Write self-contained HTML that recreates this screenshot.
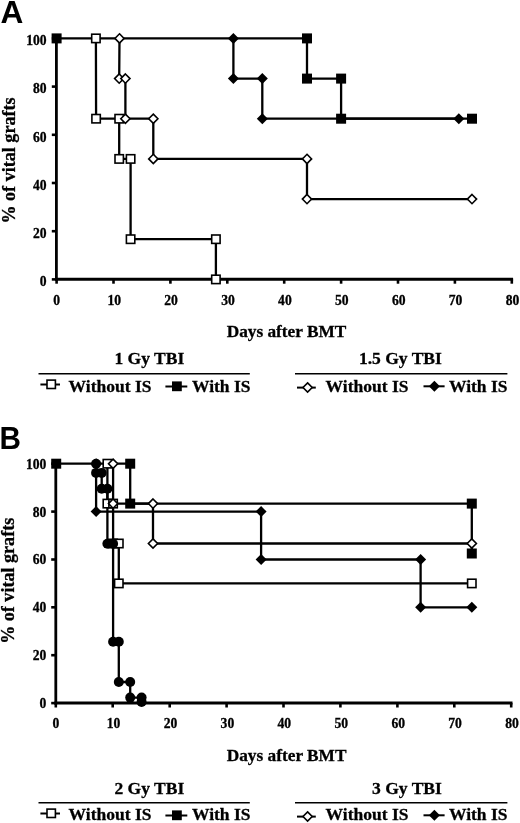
<!DOCTYPE html><html><head><meta charset="utf-8"><title>Figure</title><style>
html,body{margin:0;padding:0;background:#fff;}
svg{display:block;}
text{font-family:"Liberation Serif","Times New Roman",serif;font-weight:bold;fill:#000;stroke:#000;stroke-width:0.3px;}
.tk{font-size:13.6px;}
.lb{font-size:17.5px;}.dl{font-size:17.3px;}
.yl{font-size:18.1px;}
.pl{font-family:"Liberation Sans",Arial,sans-serif;font-size:31.6px;stroke:none;}
</style></head><body>
<svg width="520" height="823" viewBox="0 0 520 823">
<rect width="520" height="823" fill="#fff"/>
<text class="pl" x="0.5" y="22.8">A</text>
<line x1="56.4" y1="38.4" x2="56.4" y2="280.7" stroke="#000" stroke-width="2.8"/>
<line x1="55.0" y1="279.3" x2="513.1" y2="279.3" stroke="#000" stroke-width="3"/>
<line x1="56.6" y1="279.3" x2="56.6" y2="283.7" stroke="#000" stroke-width="2.6"/>
<text x="56.6" y="305.0" class="tk" text-anchor="middle">0</text>
<line x1="113.5" y1="279.3" x2="113.5" y2="283.7" stroke="#000" stroke-width="2.6"/>
<text x="114.2" y="305.0" class="tk" text-anchor="middle">10</text>
<line x1="170.4" y1="279.3" x2="170.4" y2="283.7" stroke="#000" stroke-width="2.6"/>
<text x="171.1" y="305.0" class="tk" text-anchor="middle">20</text>
<line x1="227.3" y1="279.3" x2="227.3" y2="283.7" stroke="#000" stroke-width="2.6"/>
<text x="228.0" y="305.0" class="tk" text-anchor="middle">30</text>
<line x1="284.2" y1="279.3" x2="284.2" y2="283.7" stroke="#000" stroke-width="2.6"/>
<text x="284.9" y="305.0" class="tk" text-anchor="middle">40</text>
<line x1="341.1" y1="279.3" x2="341.1" y2="283.7" stroke="#000" stroke-width="2.6"/>
<text x="341.8" y="305.0" class="tk" text-anchor="middle">50</text>
<line x1="398.0" y1="279.3" x2="398.0" y2="283.7" stroke="#000" stroke-width="2.6"/>
<text x="398.7" y="305.0" class="tk" text-anchor="middle">60</text>
<line x1="454.9" y1="279.3" x2="454.9" y2="283.7" stroke="#000" stroke-width="2.6"/>
<text x="455.6" y="305.0" class="tk" text-anchor="middle">70</text>
<line x1="511.8" y1="279.3" x2="511.8" y2="283.7" stroke="#000" stroke-width="2.6"/>
<text x="512.5" y="305.0" class="tk" text-anchor="middle">80</text>
<line x1="51.8" y1="279.4" x2="56.4" y2="279.4" stroke="#000" stroke-width="2.6"/>
<text x="46.6" y="286.2" class="tk" text-anchor="end">0</text>
<line x1="51.8" y1="231.2" x2="56.4" y2="231.2" stroke="#000" stroke-width="2.6"/>
<text x="46.6" y="238.0" class="tk" text-anchor="end">20</text>
<line x1="51.8" y1="183.0" x2="56.4" y2="183.0" stroke="#000" stroke-width="2.6"/>
<text x="46.6" y="189.8" class="tk" text-anchor="end">40</text>
<line x1="51.8" y1="134.8" x2="56.4" y2="134.8" stroke="#000" stroke-width="2.6"/>
<text x="46.6" y="141.6" class="tk" text-anchor="end">60</text>
<line x1="51.8" y1="86.6" x2="56.4" y2="86.6" stroke="#000" stroke-width="2.6"/>
<text x="46.6" y="93.4" class="tk" text-anchor="end">80</text>
<line x1="51.8" y1="38.4" x2="56.4" y2="38.4" stroke="#000" stroke-width="2.6"/>
<text x="46.6" y="45.2" class="tk" text-anchor="end">100</text>
<text class="yl" transform="translate(14.6,160.5) rotate(-90)" text-anchor="middle">% of vital grafts</text>
<text class="dl" x="286.5" y="336.5" text-anchor="middle">Days after BMT</text>
<polyline fill="none" stroke="#000" stroke-width="2.3" stroke-linejoin="miter" points="95.9,38.4 96.1,118.7 119.2,118.7 119.2,158.9 130.6,158.9 130.6,239.2 215.9,239.2 215.9,279.4"/>
<polyline fill="none" stroke="#000" stroke-width="2.3" stroke-linejoin="miter" points="119.5,38.4 119.2,78.6 125.4,78.6 125.4,118.7 153.3,118.7 153.3,158.9 307.0,158.9 307.0,199.1 472.0,199.1"/>
<polyline fill="none" stroke="#000" stroke-width="2.3" stroke-linejoin="miter" points="56.6,38.4 307.0,38.4 307.0,78.6 341.1,78.6 341.1,118.7 472.0,118.7"/>
<polyline fill="none" stroke="#000" stroke-width="2.3" stroke-linejoin="miter" points="233.4,38.4 233.4,78.6 262.3,78.6 262.3,118.7 458.8,118.7"/>
<rect x="91.7" y="34.2" width="8.4" height="8.4" fill="#fff" stroke="#000" stroke-width="1.6"/>
<rect x="91.9" y="114.5" width="8.4" height="8.4" fill="#fff" stroke="#000" stroke-width="1.6"/>
<rect x="115.0" y="114.5" width="8.4" height="8.4" fill="#fff" stroke="#000" stroke-width="1.6"/>
<rect x="115.0" y="154.7" width="8.4" height="8.4" fill="#fff" stroke="#000" stroke-width="1.6"/>
<rect x="126.4" y="154.7" width="8.4" height="8.4" fill="#fff" stroke="#000" stroke-width="1.6"/>
<rect x="126.4" y="235.0" width="8.4" height="8.4" fill="#fff" stroke="#000" stroke-width="1.6"/>
<rect x="211.7" y="235.0" width="8.4" height="8.4" fill="#fff" stroke="#000" stroke-width="1.6"/>
<rect x="211.7" y="275.2" width="8.4" height="8.4" fill="#fff" stroke="#000" stroke-width="1.6"/>
<polygon fill="#fff" stroke="#000" stroke-width="1.6" points="119.5,33.8 124.1,38.4 119.5,43.0 114.9,38.4"/>
<polygon fill="#fff" stroke="#000" stroke-width="1.6" points="119.2,74.0 123.8,78.6 119.2,83.2 114.6,78.6"/>
<polygon fill="#fff" stroke="#000" stroke-width="1.6" points="125.4,74.0 130.0,78.6 125.4,83.2 120.8,78.6"/>
<polygon fill="#fff" stroke="#000" stroke-width="1.6" points="125.4,114.1 130.0,118.7 125.4,123.3 120.8,118.7"/>
<polygon fill="#fff" stroke="#000" stroke-width="1.6" points="153.3,114.1 157.9,118.7 153.3,123.3 148.7,118.7"/>
<polygon fill="#fff" stroke="#000" stroke-width="1.6" points="153.3,154.3 157.9,158.9 153.3,163.5 148.7,158.9"/>
<polygon fill="#fff" stroke="#000" stroke-width="1.6" points="307.0,154.3 311.6,158.9 307.0,163.5 302.4,158.9"/>
<polygon fill="#fff" stroke="#000" stroke-width="1.6" points="307.0,194.5 311.6,199.1 307.0,203.7 302.4,199.1"/>
<polygon fill="#fff" stroke="#000" stroke-width="1.6" points="472.0,194.5 476.6,199.1 472.0,203.7 467.4,199.1"/>
<polygon fill="#000" points="233.4,32.9 238.9,38.4 233.4,43.9 227.9,38.4"/>
<polygon fill="#000" points="233.4,73.1 238.9,78.6 233.4,84.1 227.9,78.6"/>
<polygon fill="#000" points="262.3,73.1 267.8,78.6 262.3,84.1 256.8,78.6"/>
<polygon fill="#000" points="262.3,113.2 267.8,118.7 262.3,124.2 256.8,118.7"/>
<polygon fill="#000" points="458.8,113.2 464.3,118.7 458.8,124.2 453.3,118.7"/>
<rect x="51.6" y="33.4" width="10.0" height="10.0" fill="#000"/>
<rect x="302.0" y="33.4" width="10.0" height="10.0" fill="#000"/>
<rect x="302.0" y="73.6" width="10.0" height="10.0" fill="#000"/>
<rect x="336.1" y="73.6" width="10.0" height="10.0" fill="#000"/>
<rect x="336.1" y="113.7" width="10.0" height="10.0" fill="#000"/>
<rect x="467.0" y="113.7" width="10.0" height="10.0" fill="#000"/>
<text class="lb" x="184.2" y="364.2" text-anchor="end">1 Gy TBI</text>
<text class="lb" x="441.8" y="364.2" text-anchor="end">1.5 Gy TBI</text>
<line x1="38.5" y1="373.7" x2="249.8" y2="373.7" stroke="#000" stroke-width="1.6"/>
<line x1="295" y1="373.7" x2="507.4" y2="373.7" stroke="#000" stroke-width="1.6"/>
<line x1="40.4" y1="384.5" x2="60" y2="384.5" stroke="#000" stroke-width="2"/>
<rect x="47.0" y="380.1" width="8.4" height="8.4" fill="#fff" stroke="#000" stroke-width="1.6"/>
<line x1="165.4" y1="386.5" x2="187.3" y2="386.5" stroke="#000" stroke-width="2"/>
<rect x="172.0" y="381.4" width="9.8" height="9.8" fill="#000"/>
<line x1="297" y1="387.6" x2="315.8" y2="387.6" stroke="#000" stroke-width="2"/>
<polygon fill="#fff" stroke="#000" stroke-width="1.6" points="307.6,382.9 312.2,387.5 307.6,392.1 303.0,387.5"/>
<line x1="423.5" y1="386.3" x2="444.6" y2="386.3" stroke="#000" stroke-width="2"/>
<polygon fill="#000" points="434.4,380.8 439.9,386.3 434.4,391.8 428.9,386.3"/>
<text class="lb" x="68.6" y="391.6">Without IS</text>
<text class="lb" x="192" y="391.6">With IS</text>
<text class="lb" x="325.6" y="391.6">Without IS</text>
<text class="lb" x="449" y="391.6">With IS</text>
<text class="pl" transform="translate(-0.6,449.4) scale(0.94,1)">B</text>
<line x1="55.8" y1="463.7" x2="55.8" y2="704.5" stroke="#000" stroke-width="2.8"/>
<line x1="54.4" y1="703.1" x2="512.5" y2="703.1" stroke="#000" stroke-width="3"/>
<line x1="55.8" y1="703.1" x2="55.8" y2="707.5" stroke="#000" stroke-width="2.6"/>
<text x="55.8" y="728.2" class="tk" text-anchor="middle">0</text>
<line x1="112.7" y1="703.1" x2="112.7" y2="707.5" stroke="#000" stroke-width="2.6"/>
<text x="113.5" y="728.2" class="tk" text-anchor="middle">10</text>
<line x1="169.7" y1="703.1" x2="169.7" y2="707.5" stroke="#000" stroke-width="2.6"/>
<text x="170.5" y="728.2" class="tk" text-anchor="middle">20</text>
<line x1="226.6" y1="703.1" x2="226.6" y2="707.5" stroke="#000" stroke-width="2.6"/>
<text x="227.4" y="728.2" class="tk" text-anchor="middle">30</text>
<line x1="283.5" y1="703.1" x2="283.5" y2="707.5" stroke="#000" stroke-width="2.6"/>
<text x="284.3" y="728.2" class="tk" text-anchor="middle">40</text>
<line x1="340.4" y1="703.1" x2="340.4" y2="707.5" stroke="#000" stroke-width="2.6"/>
<text x="341.2" y="728.2" class="tk" text-anchor="middle">50</text>
<line x1="397.4" y1="703.1" x2="397.4" y2="707.5" stroke="#000" stroke-width="2.6"/>
<text x="398.2" y="728.2" class="tk" text-anchor="middle">60</text>
<line x1="454.3" y1="703.1" x2="454.3" y2="707.5" stroke="#000" stroke-width="2.6"/>
<text x="455.1" y="728.2" class="tk" text-anchor="middle">70</text>
<line x1="511.2" y1="703.1" x2="511.2" y2="707.5" stroke="#000" stroke-width="2.6"/>
<text x="512.0" y="728.2" class="tk" text-anchor="middle">80</text>
<line x1="51.2" y1="703.1" x2="55.8" y2="703.1" stroke="#000" stroke-width="2.6"/>
<text x="46.3" y="708.0" class="tk" text-anchor="end">0</text>
<line x1="51.2" y1="655.2" x2="55.8" y2="655.2" stroke="#000" stroke-width="2.6"/>
<text x="46.3" y="660.1" class="tk" text-anchor="end">20</text>
<line x1="51.2" y1="607.3" x2="55.8" y2="607.3" stroke="#000" stroke-width="2.6"/>
<text x="46.3" y="612.2" class="tk" text-anchor="end">40</text>
<line x1="51.2" y1="559.5" x2="55.8" y2="559.5" stroke="#000" stroke-width="2.6"/>
<text x="46.3" y="564.4" class="tk" text-anchor="end">60</text>
<line x1="51.2" y1="511.6" x2="55.8" y2="511.6" stroke="#000" stroke-width="2.6"/>
<text x="46.3" y="516.5" class="tk" text-anchor="end">80</text>
<line x1="51.2" y1="463.7" x2="55.8" y2="463.7" stroke="#000" stroke-width="2.6"/>
<text x="46.3" y="468.6" class="tk" text-anchor="end">100</text>
<text class="yl" transform="translate(14.3,580.8) rotate(-90)" text-anchor="middle">% of vital grafts</text>
<text class="dl" x="286.6" y="760.6" text-anchor="middle">Days after BMT</text>
<polyline fill="none" stroke="#000" stroke-width="2.3" stroke-linejoin="miter" points="96.1,463.7 96.1,511.6 261.1,511.6 261.1,559.5 420.6,559.5 420.6,607.3 471.8,607.3"/>
<polyline fill="none" stroke="#000" stroke-width="2.3" stroke-linejoin="miter" points="113.1,463.7 113.1,503.6 153.0,503.6 153.0,543.5 471.8,543.5"/>
<polyline fill="none" stroke="#000" stroke-width="2.3" stroke-linejoin="miter" points="56.2,463.7 130.2,463.7 130.2,503.6 471.8,503.6 471.8,553.5"/>
<polyline fill="none" stroke="#000" stroke-width="2.3" stroke-linejoin="miter" points="107.4,463.7 107.4,503.6 113.1,503.6 113.1,543.5 118.8,543.5 118.8,583.4 471.8,583.4"/>
<polyline fill="none" stroke="#000" stroke-width="2.3" stroke-linejoin="miter" points="96.1,463.7 96.1,472.9 101.7,472.9 101.7,488.8 107.4,488.8 107.4,543.7 113.1,543.7 113.1,641.7 118.8,641.7 118.8,682.0 130.2,682.0 130.2,697.6 141.6,697.6 141.6,702.0"/>
<rect x="103.2" y="459.5" width="8.4" height="8.4" fill="#fff" stroke="#000" stroke-width="1.6"/>
<rect x="103.2" y="499.4" width="8.4" height="8.4" fill="#fff" stroke="#000" stroke-width="1.6"/>
<rect x="108.9" y="499.4" width="8.4" height="8.4" fill="#fff" stroke="#000" stroke-width="1.6"/>
<rect x="108.9" y="539.3" width="8.4" height="8.4" fill="#fff" stroke="#000" stroke-width="1.6"/>
<rect x="114.6" y="539.3" width="8.4" height="8.4" fill="#fff" stroke="#000" stroke-width="1.6"/>
<rect x="114.6" y="579.2" width="8.4" height="8.4" fill="#fff" stroke="#000" stroke-width="1.6"/>
<rect x="467.6" y="579.2" width="8.4" height="8.4" fill="#fff" stroke="#000" stroke-width="1.6"/>
<polygon fill="#fff" stroke="#000" stroke-width="1.6" points="113.1,459.1 117.7,463.7 113.1,468.3 108.5,463.7"/>
<polygon fill="#fff" stroke="#000" stroke-width="1.6" points="113.1,499.0 117.7,503.6 113.1,508.2 108.5,503.6"/>
<polygon fill="#fff" stroke="#000" stroke-width="1.6" points="153.0,499.0 157.6,503.6 153.0,508.2 148.4,503.6"/>
<polygon fill="#fff" stroke="#000" stroke-width="1.6" points="153.0,538.9 157.6,543.5 153.0,548.1 148.4,543.5"/>
<polygon fill="#fff" stroke="#000" stroke-width="1.6" points="471.8,538.9 476.4,543.5 471.8,548.1 467.2,543.5"/>
<polygon fill="#000" points="96.1,458.2 101.6,463.7 96.1,469.2 90.6,463.7"/>
<polygon fill="#000" points="96.1,506.1 101.6,511.6 96.1,517.1 90.6,511.6"/>
<polygon fill="#000" points="261.1,506.1 266.6,511.6 261.1,517.1 255.6,511.6"/>
<polygon fill="#000" points="261.1,554.0 266.6,559.5 261.1,565.0 255.6,559.5"/>
<polygon fill="#000" points="420.6,554.0 426.1,559.5 420.6,565.0 415.1,559.5"/>
<polygon fill="#000" points="420.6,601.8 426.1,607.3 420.6,612.8 415.1,607.3"/>
<polygon fill="#000" points="471.8,601.8 477.3,607.3 471.8,612.8 466.3,607.3"/>
<circle cx="96.1" cy="463.7" r="5.0" fill="#000"/>
<circle cx="96.1" cy="472.9" r="5.0" fill="#000"/>
<circle cx="101.7" cy="472.9" r="5.0" fill="#000"/>
<circle cx="101.7" cy="488.8" r="5.0" fill="#000"/>
<circle cx="107.4" cy="488.8" r="5.0" fill="#000"/>
<circle cx="107.4" cy="543.7" r="5.0" fill="#000"/>
<circle cx="113.1" cy="543.7" r="5.0" fill="#000"/>
<circle cx="113.1" cy="641.7" r="5.0" fill="#000"/>
<circle cx="118.8" cy="641.7" r="5.0" fill="#000"/>
<circle cx="118.8" cy="682.0" r="5.0" fill="#000"/>
<circle cx="130.2" cy="682.0" r="5.0" fill="#000"/>
<circle cx="130.2" cy="697.6" r="5.0" fill="#000"/>
<circle cx="141.6" cy="697.6" r="5.0" fill="#000"/>
<circle cx="141.6" cy="702.0" r="5.0" fill="#000"/>
<rect x="51.2" y="458.7" width="10.0" height="10.0" fill="#000"/>
<rect x="125.2" y="458.7" width="10.0" height="10.0" fill="#000"/>
<rect x="125.2" y="498.6" width="10.0" height="10.0" fill="#000"/>
<rect x="466.8" y="498.6" width="10.0" height="10.0" fill="#000"/>
<rect x="466.8" y="548.5" width="10.0" height="10.0" fill="#000"/>
<text class="lb" x="184.2" y="793.7" text-anchor="end">2 Gy TBI</text>
<text class="lb" x="441.8" y="793.7" text-anchor="end">3 Gy TBI</text>
<line x1="38.5" y1="802.7" x2="249.8" y2="802.7" stroke="#000" stroke-width="1.6"/>
<line x1="295" y1="802.7" x2="507.4" y2="802.7" stroke="#000" stroke-width="1.6"/>
<line x1="40.4" y1="813.5" x2="60" y2="813.5" stroke="#000" stroke-width="2"/>
<rect x="47.0" y="809.1" width="8.4" height="8.4" fill="#fff" stroke="#000" stroke-width="1.6"/>
<line x1="165.4" y1="815.5" x2="187.3" y2="815.5" stroke="#000" stroke-width="2"/>
<rect x="172.0" y="810.4" width="9.8" height="9.8" fill="#000"/>
<line x1="297" y1="816.6" x2="315.8" y2="816.6" stroke="#000" stroke-width="2"/>
<polygon fill="#fff" stroke="#000" stroke-width="1.6" points="307.6,811.9 312.2,816.5 307.6,821.1 303.0,816.5"/>
<line x1="423.5" y1="815.3" x2="444.6" y2="815.3" stroke="#000" stroke-width="2"/>
<polygon fill="#000" points="434.4,809.8 439.9,815.3 434.4,820.8 428.9,815.3"/>
<text class="lb" x="68.6" y="820.3">Without IS</text>
<text class="lb" x="192" y="820.3">With IS</text>
<text class="lb" x="325.6" y="820.3">Without IS</text>
<text class="lb" x="449" y="820.3">With IS</text>
</svg></body></html>
